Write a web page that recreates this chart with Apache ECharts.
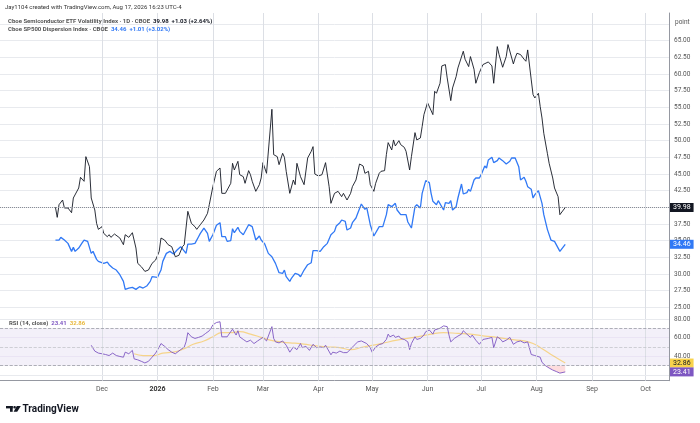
<!DOCTYPE html>
<html>
<head>
<meta charset="utf-8">
<title>VXSOX vs Dispersion</title>
<script src="https://cdn.jsdelivr.net/npm/echarts@6/dist/echarts.min.js"></script>
<style>
  html, body { margin: 0; padding: 0; background: #fff; }
  #chart { width: 700px; height: 423px; }
</style>
</head>
<body>
<div id="chart"></div>
<script>
// Cboe Semiconductor ETF Volatility Index (black)
var vxDates = [
  '2025-11-05','2025-11-06','2025-11-07','2025-11-09','2025-11-10','2025-11-12','2025-11-14','2025-11-15','2025-11-16','2025-11-18','2025-11-19','2025-11-21','2025-11-22','2025-11-24','2025-11-25','2025-11-27','2025-11-28','2025-11-29',
  '2025-12-01','2025-12-02','2025-12-04','2025-12-05','2025-12-06','2025-12-08','2025-12-09','2025-12-11','2025-12-13','2025-12-14','2025-12-16','2025-12-18','2025-12-20','2025-12-21','2025-12-23','2025-12-25','2025-12-27','2025-12-29','2025-12-31',
  '2026-01-02','2026-01-03','2026-01-05','2026-01-07','2026-01-09','2026-01-11','2026-01-13','2026-01-15','2026-01-16','2026-01-18','2026-01-20','2026-01-22','2026-01-23','2026-01-25','2026-01-27','2026-01-29','2026-01-30',
  '2026-02-01','2026-02-03','2026-02-05','2026-02-06','2026-02-08','2026-02-09','2026-02-11','2026-02-12','2026-02-13','2026-02-15','2026-02-16','2026-02-18','2026-02-19','2026-02-21','2026-02-22','2026-02-23','2026-02-25','2026-02-27','2026-02-28',
  '2026-03-01','2026-03-03','2026-03-04','2026-03-06','2026-03-07','2026-03-09','2026-03-10','2026-03-12','2026-03-13','2026-03-14','2026-03-16','2026-03-18','2026-03-19','2026-03-20','2026-03-22','2026-03-23','2026-03-24','2026-03-26','2026-03-28','2026-03-29','2026-03-30',
  '2026-04-01','2026-04-03','2026-04-04','2026-04-05','2026-04-07','2026-04-08','2026-04-10','2026-04-11','2026-04-12','2026-04-14','2026-04-15','2026-04-17','2026-04-19','2026-04-20','2026-04-22','2026-04-24','2026-04-26','2026-04-27','2026-04-29','2026-04-30',
  '2026-05-02','2026-05-03','2026-05-05','2026-05-06','2026-05-08','2026-05-09','2026-05-10','2026-05-12','2026-05-13','2026-05-14','2026-05-16','2026-05-17','2026-05-19','2026-05-20','2026-05-22','2026-05-23','2026-05-25','2026-05-26','2026-05-28','2026-05-29','2026-05-30',
  '2026-06-01','2026-06-02','2026-06-04','2026-06-05','2026-06-06','2026-06-08','2026-06-09','2026-06-11','2026-06-12','2026-06-14','2026-06-15','2026-06-17','2026-06-18','2026-06-19','2026-06-21','2026-06-22','2026-06-24','2026-06-25','2026-06-27','2026-06-28','2026-06-30',
  '2026-07-02','2026-07-03','2026-07-05','2026-07-07','2026-07-08','2026-07-10','2026-07-11','2026-07-13','2026-07-15','2026-07-16','2026-07-17','2026-07-19','2026-07-20','2026-07-21','2026-07-23','2026-07-25','2026-07-26','2026-07-27','2026-07-29','2026-07-30','2026-07-31',
  '2026-08-01','2026-08-02','2026-08-03','2026-08-04','2026-08-05','2026-08-07','2026-08-08','2026-08-10','2026-08-11','2026-08-13','2026-08-14','2026-08-17'
];
var vxValues = [
  40.0,38.5,40.4,41.1,39.9,39.9,39.2,41.4,41.6,42.9,44.5,43.9,47.6,46.1,41.4,39.6,37.6,36.7,
  37.1,36.1,35.6,35.9,35.5,36.0,36.1,35.4,34.4,35.9,35.5,36.2,33.9,31.6,31.1,30.4,30.6,31.6,32.1,
  33.4,35.4,35.1,34.4,34.1,32.6,32.8,34.1,34.4,39.4,37.6,37.1,36.7,37.4,38.1,39.1,40.4,
  43.1,45.4,45.9,42.1,42.1,41.9,43.6,46.6,45.6,46.9,44.9,44.6,43.6,45.5,44.9,43.9,42.4,43.4,44.4,
  46.7,45.1,45.0,54.7,47.9,47.6,46.4,48.1,47.5,45.4,42.1,44.1,43.4,46.6,44.6,44.7,43.4,47.4,48.4,49.1,45.0,
  44.7,44.9,44.9,46.7,43.1,40.6,42.1,41.9,42.4,41.6,42.1,41.1,42.1,43.1,44.1,46.5,46.2,45.1,45.4,43.4,
  42.4,43.6,45.1,45.4,45.5,47.9,49.7,48.6,50.1,49.2,50.0,49.4,49.0,48.4,45.6,47.6,51.2,50.1,50.4,52.1,53.9,
  55.7,55.5,53.9,57.4,57.1,58.6,61.2,61.4,59.4,56.0,57.9,59.6,60.9,61.0,63.4,62.2,61.1,62.6,60.7,58.6,60.2,
  61.4,61.4,61.8,61.2,58.6,64.1,62.9,61.0,62.6,64.4,64.6,61.5,62.4,63.1,62.9,62.2,61.9,63.6,59.1,56.9,56.4,
  56.6,57.1,55.1,53.4,51.1,48.1,46.6,44.4,42.9,41.6,38.9,39.98
];

// Cboe SP500 Dispersion Index (blue)
var dspxDates = [
  '2025-11-05','2025-11-07','2025-11-08','2025-11-10','2025-11-12','2025-11-14','2025-11-15','2025-11-16','2025-11-18','2025-11-20','2025-11-21','2025-11-23','2025-11-25','2025-11-26','2025-11-28','2025-11-29',
  '2025-12-02','2025-12-04','2025-12-05','2025-12-07','2025-12-09','2025-12-11','2025-12-13','2025-12-14','2025-12-16','2025-12-18','2025-12-20','2025-12-22','2025-12-24','2025-12-26','2025-12-28','2025-12-29',
  '2026-01-01','2026-01-03','2026-01-04','2026-01-06','2026-01-08','2026-01-10','2026-01-12','2026-01-14','2026-01-15','2026-01-17','2026-01-18','2026-01-20','2026-01-22','2026-01-24','2026-01-25','2026-01-27','2026-01-29','2026-01-30',
  '2026-02-01','2026-02-03','2026-02-05','2026-02-06','2026-02-08','2026-02-09','2026-02-11','2026-02-12','2026-02-13','2026-02-15','2026-02-16','2026-02-18','2026-02-19','2026-02-21','2026-02-23','2026-02-25','2026-02-27','2026-02-28',
  '2026-03-02','2026-03-04','2026-03-06','2026-03-08','2026-03-10','2026-03-12','2026-03-13','2026-03-14','2026-03-16','2026-03-17','2026-03-19','2026-03-21','2026-03-22','2026-03-24','2026-03-26','2026-03-28','2026-03-29','2026-03-31',
  '2026-04-02','2026-04-04','2026-04-06','2026-04-08','2026-04-10','2026-04-11','2026-04-13','2026-04-14','2026-04-16','2026-04-17','2026-04-19','2026-04-20','2026-04-22','2026-04-23','2026-04-25','2026-04-27','2026-04-28','2026-04-30',
  '2026-05-02','2026-05-03','2026-05-05','2026-05-07','2026-05-09','2026-05-10','2026-05-12','2026-05-14','2026-05-15','2026-05-17','2026-05-18','2026-05-20','2026-05-21','2026-05-23','2026-05-25','2026-05-26','2026-05-28','2026-05-29','2026-05-31',
  '2026-06-02','2026-06-03','2026-06-04','2026-06-06','2026-06-07','2026-06-08','2026-06-10','2026-06-11','2026-06-13','2026-06-14','2026-06-15','2026-06-17','2026-06-18','2026-06-20','2026-06-21','2026-06-23','2026-06-24','2026-06-25','2026-06-27','2026-06-28','2026-06-30',
  '2026-07-01','2026-07-03','2026-07-04','2026-07-05','2026-07-07','2026-07-08','2026-07-10','2026-07-11','2026-07-13','2026-07-15','2026-07-17','2026-07-18','2026-07-20','2026-07-22','2026-07-23','2026-07-25','2026-07-26','2026-07-27','2026-07-29','2026-07-30','2026-07-31',
  '2026-08-02','2026-08-04','2026-08-05','2026-08-07','2026-08-08','2026-08-09','2026-08-11','2026-08-12','2026-08-14','2026-08-17'
];
var dspxValues = [
  35.1,35.1,35.5,35.1,34.6,33.4,34.0,33.4,33.9,34.7,35.1,34.9,33.1,33.4,32.2,31.9,
  31.6,31.8,31.4,30.9,30.6,29.9,28.9,27.7,27.9,28.0,27.7,28.1,27.9,28.2,28.9,29.6,
  29.5,30.6,31.9,33.1,33.4,33.0,33.6,34.1,33.9,33.1,34.5,34.5,34.6,35.6,36.1,36.9,36.1,34.9,
  35.9,37.3,37.7,35.6,35.6,34.9,35.0,36.8,36.2,37.0,36.4,35.9,35.9,37.4,37.1,35.1,35.7,35.1,
  34.5,33.1,32.6,31.6,30.2,30.1,30.6,29.6,28.9,29.4,30.1,29.9,29.6,30.6,31.4,31.7,33.5,33.5,
  33.4,34.1,34.6,35.9,36.4,37.2,37.7,38.1,37.9,36.6,36.9,37.7,38.4,39.1,40.5,39.7,40.0,37.4,
  35.7,35.9,37.1,37.1,38.9,40.4,40.1,40.6,39.6,38.9,38.9,38.9,37.8,36.9,40.1,40.4,39.9,42.1,44.0,
  43.7,42.1,40.9,40.4,41.0,40.9,39.6,40.7,40.6,41.0,39.6,40.1,41.4,43.5,42.0,42.2,42.7,42.4,44.1,44.4,44.4,
  44.9,46.2,45.9,47.1,47.5,46.7,47.0,47.4,47.0,46.5,46.9,47.4,47.4,46.1,44.1,44.5,43.9,43.1,42.7,41.4,41.9,
  42.5,40.6,38.9,36.7,36.5,35.1,34.9,34.7,33.4,34.46
];

// RSI (14, close) and its moving average
var rsiDates = [
  '2025-11-25','2025-11-27','2025-11-29',
  '2025-12-01','2025-12-03','2025-12-05','2025-12-07','2025-12-09','2025-12-11','2025-12-13','2025-12-14','2025-12-16','2025-12-18','2025-12-19','2025-12-21','2025-12-23','2025-12-25','2025-12-27','2025-12-29','2025-12-31',
  '2026-01-02','2026-01-03','2026-01-05','2026-01-07','2026-01-09','2026-01-11','2026-01-12','2026-01-14','2026-01-16','2026-01-17','2026-01-18','2026-01-20','2026-01-22','2026-01-24','2026-01-26','2026-01-28','2026-01-30','2026-01-31',
  '2026-02-01','2026-02-03','2026-02-05','2026-02-06','2026-02-07','2026-02-09','2026-02-10','2026-02-12','2026-02-14','2026-02-15','2026-02-16','2026-02-18','2026-02-20','2026-02-22','2026-02-24','2026-02-26','2026-02-27',
  '2026-03-01','2026-03-03','2026-03-04','2026-03-06','2026-03-07','2026-03-08','2026-03-10','2026-03-12','2026-03-14','2026-03-16','2026-03-18','2026-03-20','2026-03-22','2026-03-23','2026-03-25','2026-03-27','2026-03-29','2026-03-31',
  '2026-04-02','2026-04-04','2026-04-05','2026-04-08','2026-04-09','2026-04-11','2026-04-13','2026-04-15','2026-04-17','2026-04-19','2026-04-21','2026-04-23','2026-04-25','2026-04-26','2026-04-28','2026-04-30',
  '2026-05-01','2026-05-03','2026-05-05','2026-05-07','2026-05-09','2026-05-10','2026-05-11','2026-05-13','2026-05-14','2026-05-16','2026-05-17','2026-05-19','2026-05-21','2026-05-22','2026-05-23','2026-05-25','2026-05-26','2026-05-28','2026-05-30','2026-05-31',
  '2026-06-02','2026-06-04','2026-06-05','2026-06-06','2026-06-08','2026-06-10','2026-06-12','2026-06-13','2026-06-14','2026-06-16','2026-06-18','2026-06-20','2026-06-21','2026-06-23','2026-06-25','2026-06-26','2026-06-28','2026-06-30',
  '2026-07-02','2026-07-03','2026-07-05','2026-07-07','2026-07-08','2026-07-10','2026-07-12','2026-07-13','2026-07-15','2026-07-17','2026-07-19','2026-07-21','2026-07-23','2026-07-25','2026-07-27','2026-07-28','2026-07-29','2026-07-31',
  '2026-08-01','2026-08-03','2026-08-04','2026-08-06','2026-08-08','2026-08-10','2026-08-12','2026-08-14','2026-08-17'
];
var rsiValues = [
  51.9,45.6,43.5,
  42.8,42.0,40.9,43.5,40.9,39.9,39.1,44.5,42.8,46.4,37.3,36.3,34.7,33.0,34.7,39.1,43.5,
  50.0,53.7,50.8,47.2,44.5,42.8,44.5,47.2,50.0,55.5,65.3,60.9,59.2,60.3,61.7,64.6,67.4,70.1,
  73.7,76.2,77.0,60.9,61.7,60.9,63.8,69.0,62.8,67.4,60.9,58.1,55.5,57.3,53.7,56.5,54.4,
  60.3,56.5,55.5,71.8,59.2,55.5,54.4,56.5,51.9,44.5,50.0,47.2,53.7,49.3,50.8,46.4,52.9,49.3,
  50.0,49.3,51.9,41.7,44.5,43.5,45.6,44.0,44.0,47.7,51.9,55.5,56.5,54.4,53.7,49.3,
  44.5,50.0,52.6,53.7,58.1,63.8,60.9,62.8,60.3,61.7,59.2,58.1,55.5,47.2,53.7,60.9,58.1,59.2,62.8,66.4,
  68.2,63.8,68.2,67.4,70.1,72.6,71.8,62.8,55.5,59.2,61.7,63.8,67.4,63.8,60.3,62.8,57.3,52.9,
  58.1,59.2,59.2,60.3,49.3,60.9,58.1,55.5,57.3,60.3,52.9,55.5,56.5,54.4,55.5,53.7,42.0,40.9,
  42.8,39.1,33.6,30.0,27.5,25.4,23.8,22.1,23.41
];
var maDates = [
  '2025-12-19','2025-12-24','2025-12-30',
  '2026-01-04','2026-01-10','2026-01-16','2026-01-21','2026-01-27',
  '2026-02-01','2026-02-06','2026-02-11','2026-02-16','2026-02-22','2026-02-28',
  '2026-03-05','2026-03-11','2026-03-16','2026-03-22','2026-03-28',
  '2026-04-02','2026-04-08','2026-04-13','2026-04-19','2026-04-26',
  '2026-05-06','2026-05-15','2026-05-26',
  '2026-06-03','2026-06-10','2026-06-18','2026-06-25',
  '2026-07-03','2026-07-10','2026-07-17','2026-07-25','2026-07-30',
  '2026-08-05','2026-08-10','2026-08-17'
];
var maValues = [
  42.8,40.9,40.9,
  43.5,44.5,48.3,52.9,56.5,
  60.9,65.3,65.3,66.4,63.8,60.3,
  57.3,55.5,54.4,53.7,51.9,
  50.8,50.0,49.3,47.2,50.0,
  53.7,57.3,60.9,
  63.8,65.3,64.6,63.8,
  61.7,60.3,58.1,56.5,53.7,
  47.2,40.9,32.86
];

// month starts that carry a vertical grid line
var monthLines = ['2025-12-01','2026-01-01','2026-02-01','2026-03-01','2026-04-01','2026-05-01',
  '2026-06-01','2026-07-01','2026-08-01','2026-09-01','2026-10-01'];
var monthNames = ['Jan','Feb','Mar','Apr','May','Jun','Jul','Aug','Sep','Oct','Nov','Dec'];
var vxChange = '+1.03 (+2.64%)';
var dspxChange = '+1.01 (+3.02%)';

var FONT = 'Roboto, "Liberation Sans", sans-serif';
var GRID = '#e8eaee';
var VGRID = '#dcdfe5';
var AXIS = '#9598a1';
var BLACK = '#131722';
var BLUE = '#3179f5';
var PURPLE = '#7e57c2';
var YELLOW = '#f6d48a';
var xMin = '2025-10-05';
var xMax = '2026-10-14';

function pairs(dates, values) {
  return dates.map(function (d, i) { return [d, values[i]]; });
}
function last(arr) { return arr[arr.length - 1]; }
function stamp(s) {
  var p = s.split('-');
  return new Date(+p[0], +p[1] - 1, +p[2]).getTime();
}

var rsiOversold = pairs(rsiDates, rsiValues).filter(function (p) { return p[1] <= 30; });

function monthGrid() {
  return monthLines.map(function (d) {
    return { xAxis: stamp(d), lineStyle: { color: VGRID, type: 'solid', width: 1 }, label: { show: false } };
  });
}

function timeAxis(gridIndex, labels) {
  return {
    type: 'time',
    gridIndex: gridIndex,
    min: xMin,
    max: xMax,
    splitNumber: 12,
    minInterval: 28 * 864e5,
    maxInterval: 31 * 864e5,
    show: gridIndex !== 1,
    axisLine: { show: labels, lineStyle: { color: AXIS, width: 1 } },
    axisTick: { show: false },
    axisLabel: {
      show: labels,
      fontSize: 7,
      color: '#555',
      fontFamily: FONT,
      margin: 5,
      showMinLabel: false,
      showMaxLabel: false,
      formatter: function (v) {
        var d = new Date(v);
        if (d.getDate() !== 1) return '';
        var m = d.getMonth();
        if (m === 10) return '';
        if (m === 0) return '{b|' + d.getFullYear() + '}';
        return monthNames[m];
      },
      rich: { b: { fontSize: 7, fontWeight: 'bold', color: '#333', fontFamily: FONT } }
    },
    splitLine: { show: false }
  };
}

function tag(bg, fg) {
  return {
    show: true,
    position: 'end',
    distance: 1,
    formatter: function (p) { return p.value.toFixed(2); },
    backgroundColor: bg,
    color: fg,
    fontSize: 7,
    fontFamily: FONT,
    padding: [1, 3, 1, 3]
  };
}

var chart = echarts.init(document.getElementById('chart'));

var option = {
  animation: false,
  backgroundColor: '#fff',
  title: [
    {
      left: 5, top: 3, padding: 0,
      text: 'Jay1104 created with TradingView.com, Aug 17, 2026 16:23 UTC-4',
      textStyle: { fontSize: 6, fontWeight: 'normal', color: '#333', fontFamily: FONT, lineHeight: 8 }
    },
    {
      left: 8, top: 17, padding: 0,
      text: '{g|Cboe Semiconductor ETF Volatility Index · 1D · CBOE}  {v|' + last(vxValues).toFixed(2) + '}  {c|' + vxChange + '}',
      textStyle: {
        fontFamily: FONT, fontSize: 6, lineHeight: 8,
        rich: {
          g: { fontSize: 6, color: '#555', fontFamily: FONT },
          v: { fontSize: 6, color: BLACK, fontWeight: 'bold', fontFamily: FONT },
          c: { fontSize: 6, color: BLACK, fontFamily: FONT }
        }
      }
    },
    {
      left: 8, top: 25.5, padding: 0,
      text: '{g|Cboe SP500 Dispersion Index · CBOE}  {v|' + last(dspxValues).toFixed(2) + '}  {v|' + dspxChange + '}',
      textStyle: {
        fontFamily: FONT, fontSize: 6, lineHeight: 8,
        rich: {
          g: { fontSize: 6, color: '#555', fontFamily: FONT },
          v: { fontSize: 6, color: BLUE, fontFamily: FONT }
        }
      }
    },
    {
      left: 9, top: 319.5, padding: 0,
      text: '{g|RSI (14, close)}  {p|' + last(rsiValues).toFixed(2) + '}  {y|' + last(maValues).toFixed(2) + '}',
      textStyle: {
        fontFamily: FONT, fontSize: 6, lineHeight: 8,
        rich: {
          g: { fontSize: 6, color: '#555', fontFamily: FONT },
          p: { fontSize: 6, color: PURPLE, fontFamily: FONT },
          y: { fontSize: 6, color: '#e8b73a', fontFamily: FONT }
        }
      }
    }
  ],
  graphic: [
    { type: 'text', x: 675, y: 22, style: { text: 'point', fontSize: 6.5, fontFamily: FONT, fill: '#555', verticalAlign: 'middle' } },
    { type: 'rect', shape: { x: 6, y: 406, width: 6.7, height: 2.4 }, style: { fill: BLACK } },
    { type: 'rect', shape: { x: 10, y: 406, width: 2.7, height: 5.8 }, style: { fill: BLACK } },
    { type: 'circle', shape: { cx: 14.6, cy: 407.3, r: 1.3 }, style: { fill: BLACK } },
    { type: 'polygon', shape: { points: [[16.8, 406], [20.8, 406], [17.2, 411.8], [13.6, 411.8]] }, style: { fill: BLACK } },
    { type: 'text', x: 22.5, y: 409, style: { text: 'TradingView', fontSize: 10, fontWeight: 'bold', fontFamily: FONT, fill: BLACK, verticalAlign: 'middle' } }
  ],
  grid: [
    { left: 0, right: 31, top: 13, height: 298 },
    { left: 0, right: 31, top: 23.9, height: 283.5 },
    { left: 0, right: 31, top: 309.6, height: 71.1 }
  ],
  xAxis: [timeAxis(0, false), timeAxis(1, false), timeAxis(2, true)],
  yAxis: [
    {
      type: 'value', gridIndex: 0, position: 'right', min: 0, max: 1,
      axisLine: { show: true, lineStyle: { color: AXIS } },
      axisTick: { show: false }, axisLabel: { show: false }, splitLine: { show: false }
    },
    {
      type: 'value', gridIndex: 1, position: 'right', min: 25, max: 67.5, interval: 2.5,
      axisLine: { show: false }, axisTick: { show: false },
      axisLabel: {
        fontSize: 6.5, color: '#555', fontFamily: FONT, margin: 5,
        formatter: function (v) { return v > 66 ? '' : v.toFixed(2); }
      },
      splitLine: { lineStyle: { color: GRID, width: 1 } }
    },
    {
      type: 'value', gridIndex: 2, position: 'right', min: 14, max: 90, interval: 2,
      axisLine: { show: true, lineStyle: { color: AXIS } }, axisTick: { show: false },
      axisLabel: {
        fontSize: 6.5, color: '#555', fontFamily: FONT, margin: 5,
        formatter: function (v) { return (v === 40 || v === 60 || v === 80) ? v.toFixed(2) : ''; }
      },
      splitLine: { show: false }
    }
  ],
  series: [
    {
      name: 'month grid',
      type: 'line', xAxisIndex: 0, yAxisIndex: 0,
      data: [], silent: true, z: 0,
      markLine: { silent: true, symbol: ['none', 'none'], label: { show: false }, data: monthGrid() }
    },
    {
      name: 'Cboe SP500 Dispersion Index',
      type: 'line', xAxisIndex: 1, yAxisIndex: 1,
      data: pairs(dspxDates, dspxValues),
      showSymbol: false, symbol: 'none',
      lineStyle: { color: BLUE, width: 1.3 },
      z: 3,
      markLine: {
        silent: true, symbol: ['none', 'none'],
        lineStyle: { color: 'rgba(0,0,0,0)', width: 0 },
        label: tag(BLUE, '#fff'),
        data: [{ yAxis: last(dspxValues) }]
      }
    },
    {
      name: 'Cboe Semiconductor ETF Volatility Index',
      type: 'line', xAxisIndex: 1, yAxisIndex: 1,
      data: pairs(vxDates, vxValues),
      showSymbol: false, symbol: 'none',
      lineStyle: { color: BLACK, width: 0.9 },
      z: 4,
      markLine: {
        silent: true, symbol: ['none', 'none'],
        lineStyle: { color: '#8a8d96', type: 'dotted', width: 1 },
        label: tag(BLACK, '#fff'),
        data: [{ yAxis: last(vxValues) }]
      }
    },
    {
      name: 'RSI oversold fill',
      type: 'line', xAxisIndex: 2, yAxisIndex: 2,
      data: rsiOversold,
      showSymbol: false, symbol: 'none',
      lineStyle: { width: 0 },
      areaStyle: { origin: 30, color: 'rgba(242,54,69,0.25)' },
      z: 2
    },
    {
      name: 'RSI-based MA',
      type: 'line', xAxisIndex: 2, yAxisIndex: 2,
      data: pairs(maDates, maValues),
      showSymbol: false, symbol: 'none', smooth: true,
      lineStyle: { color: YELLOW, width: 1.2 },
      z: 3,
      markLine: {
        silent: true, symbol: ['none', 'none'],
        lineStyle: { color: 'rgba(0,0,0,0)', width: 0 },
        label: tag('#f9d34c', BLACK),
        data: [{ yAxis: last(maValues) }]
      }
    },
    {
      name: 'RSI',
      type: 'line', xAxisIndex: 2, yAxisIndex: 2,
      data: pairs(rsiDates, rsiValues),
      showSymbol: false, symbol: 'none',
      lineStyle: { color: PURPLE, width: 0.9 },
      z: 4,
      markArea: {
        silent: true,
        itemStyle: { color: 'rgba(126,87,194,0.09)' },
        data: [[{ yAxis: 30 }, { yAxis: 70 }]]
      },
      markLine: {
        silent: true, symbol: ['none', 'none'],
        label: tag(PURPLE, '#fff'),
        data: monthGrid().concat([
          { yAxis: 20, lineStyle: { color: GRID, type: 'solid', width: 1 }, label: { show: false } },
          { yAxis: 40, lineStyle: { color: 'rgba(126,87,194,0.08)', type: 'solid', width: 1 }, label: { show: false } },
          { yAxis: 60, lineStyle: { color: 'rgba(126,87,194,0.08)', type: 'solid', width: 1 }, label: { show: false } },
          { yAxis: 80, lineStyle: { color: GRID, type: 'solid', width: 1 }, label: { show: false } },
          { yAxis: 70, lineStyle: { color: '#9a9ca6', type: 'dashed', width: 0.8 }, label: { show: false } },
          { yAxis: 50, lineStyle: { color: '#c4c5cc', type: 'dashed', width: 0.8 }, label: { show: false } },
          { yAxis: 30, lineStyle: { color: '#9a9ca6', type: 'dashed', width: 0.8 }, label: { show: false } },
          { yAxis: last(rsiValues), lineStyle: { color: 'rgba(0,0,0,0)', width: 0 } }
        ])
      }
    }
  ]
};

chart.setOption(option);
</script>
</body>
</html>
